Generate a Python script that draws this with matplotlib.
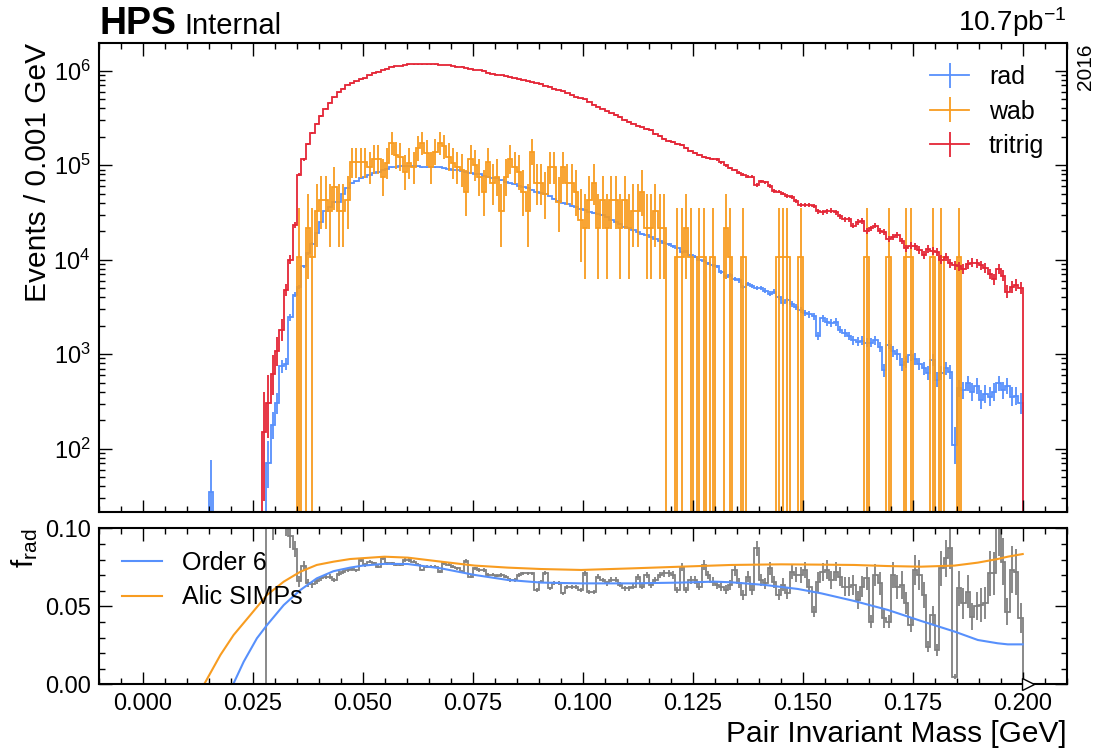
import numpy as np
import matplotlib.pyplot as plt
from matplotlib.ticker import MultipleLocator, LogLocator, NullFormatter, FormatStrFormatter

plt.rcParams['font.family'] = ['Liberation Sans', 'DejaVu Sans']
plt.rcParams['mathtext.fontset'] = 'custom'
plt.rcParams['mathtext.rm'] = 'Liberation Sans'
plt.rcParams['mathtext.it'] = 'Liberation Sans:italic'
plt.rcParams['mathtext.bf'] = 'Liberation Sans:bold'

# binning: 200 bins of 0.001 GeV
edges = np.linspace(0.0, 0.2, 201)
centers = 0.5 * (edges[:-1] + edges[1:])

# events per bin
tritrig = [0] * 27 + [151, 302, 617,
    1070, 1820, 4790, 1.0e4, 2.34e4, 7.94e4, 1.15e5, 1.66e5, 2.19e5, 2.75e5,
    3.31e5, 3.98e5, 4.57e5, 5.25e5, 5.89e5, 6.46e5, 7.08e5, 7.41e5, 7.76e5, 8.13e5,
    8.32e5, 8.91e5, 9.55e5, 9.77e5, 1.02e6, 1.05e6, 1.10e6, 1.12e6, 1.12e6, 1.15e6,
    1.17e6, 1.17e6, 1.17e6, 1.17e6, 1.17e6, 1.17e6, 1.17e6, 1.15e6, 1.15e6, 1.15e6,
    1.12e6, 1.10e6, 1.10e6, 1.07e6, 1.05e6, 1.02e6, 1.02e6, 1.00e6, 9.55e5, 9.33e5,
    9.12e5, 8.91e5, 8.71e5, 8.51e5, 8.32e5, 8.13e5, 7.94e5, 7.76e5, 7.59e5, 7.41e5,
    7.24e5, 6.92e5, 6.76e5, 6.46e5, 6.31e5, 6.03e5, 5.75e5, 5.50e5, 5.25e5, 5.13e5,
    5.01e5, 4.68e5, 4.37e5, 4.17e5, 3.98e5, 3.72e5, 3.55e5, 3.39e5, 3.24e5, 3.02e5,
    2.88e5, 2.75e5, 2.63e5, 2.51e5, 2.40e5, 2.34e5, 2.14e5, 2.04e5, 1.91e5, 1.82e5,
    1.74e5, 1.66e5, 1.62e5, 1.51e5, 1.41e5, 1.35e5, 1.29e5, 1.23e5, 1.20e5, 1.17e5,
    1.15e5, 1.07e5, 1.00e5, 9.33e4, 8.91e4, 8.32e4, 7.94e4, 7.59e4, 7.59e4, 6.17e4,
    6.76e4, 6.61e4, 6.03e4, 5.37e4, 5.25e4, 5.01e4, 4.68e4, 4.57e4, 4.17e4, 3.80e4,
    3.80e4, 3.80e4, 3.72e4, 3.24e4, 3.16e4, 3.24e4, 3.31e4, 3.16e4, 2.88e4, 2.69e4,
    2.69e4, 2.29e4, 2.51e4, 2.57e4, 2.00e4, 2.14e4, 2.29e4, 2.00e4, 1.95e4, 1.66e4,
    1.74e4, 1.82e4, 1.58e4, 1.32e4, 1.41e4, 1.38e4, 1.26e4, 1.12e4, 1.29e4, 1.23e4,
    1.20e4, 1.00e4, 1.07e4, 9120, 8710, 8510, 7940, 8910, 9330, 9120,
    8710, 8130, 7080, 6170, 7940, 6760, 4570, 5130, 5370, 5010]

rad = [0] * 15 + [35] + [0] * 12 + [71, 178,
    302, 741, 794, 2450, 4270, 5130, 8510, 1.17e4, 1.48e4, 1.91e4,
    2.51e4, 3.24e4, 3.63e4, 4.07e4, 4.07e4, 5.01e4, 5.75e4, 6.46e4, 6.76e4, 7.24e4,
    7.59e4, 7.94e4, 8.32e4, 8.51e4, 8.91e4, 9.12e4, 9.55e4, 9.55e4, 9.77e4, 9.77e4,
    9.77e4, 9.77e4, 9.77e4, 9.55e4, 9.55e4, 9.55e4, 9.55e4, 9.55e4, 9.33e4, 9.12e4,
    8.91e4, 8.91e4, 8.71e4, 8.51e4, 8.32e4, 8.13e4, 8.13e4, 7.76e4, 7.59e4, 7.41e4,
    7.24e4, 6.92e4, 6.61e4, 6.46e4, 6.31e4, 6.03e4, 5.89e4, 5.75e4, 5.50e4, 5.25e4,
    5.13e4, 5.01e4, 4.68e4, 4.37e4, 4.17e4, 3.98e4, 3.89e4, 3.72e4, 3.63e4, 3.47e4,
    3.39e4, 3.16e4, 3.09e4, 3.02e4, 2.95e4, 2.82e4, 2.63e4, 2.51e4, 2.40e4, 2.24e4,
    2.14e4, 2.04e4, 1.95e4, 1.86e4, 1.82e4, 1.74e4, 1.66e4, 1.58e4, 1.51e4, 1.45e4,
    1.38e4, 1.32e4, 1.20e4, 1.23e4, 1.12e4, 1.07e4, 1.00e4, 9770, 9120, 8710,
    8510, 7410, 6610, 6920, 6310, 6030, 5130, 5500, 5250, 5010,
    5010, 4680, 4370, 4570, 3980, 3470, 3720, 3390, 3160, 2950,
    2750, 2630, 2510, 1550, 2400, 2190, 2140, 2190, 1820, 1660,
    1550, 1410, 1350, 1380, 1320, 1320, 1410, 1200, 676, 1260,
    1070, 1000, 776, 832, 977, 891, 794, 708, 631, 871,
    537, 631, 708, 646, 110, 437, 417, 490, 398, 457,
    331, 380, 355, 398, 490, 417, 457, 355, 363, 302]

wab = [0] * 35 + [10700, 0, 21400, 10700, 32400,
    42700, 42700, 32400, 58900, 32400, 32400, 42700, 1.07e5, 1.07e5, 1.07e5,
    1.07e5, 95500, 1.17e5, 1.17e5, 75900, 1.05e5, 1.70e5, 1.29e5, 1.23e5, 85100,
    1.05e5, 95500, 1.51e5, 1.70e5, 1.35e5, 95500, 1.38e5, 1.70e5, 1.58e5, 1.23e5,
    1.05e5, 95500, 89100, 52500, 1.17e5, 1.00e5, 75900, 52500, 1.07e5, 64600,
    75900, 32400, 75900, 1.17e5, 95500, 85100, 52500, 32400, 1.38e5, 64600,
    64600, 50100, 95500, 95500, 40700, 95500, 64600, 64600, 52500, 26300,
    21400, 42700, 64600, 21400, 42700, 21400, 42700, 42700, 21400, 42700,
    21400, 32400, 32400, 52500, 21400, 21400, 32400, 21400, 21400, 0,
    0, 10700, 10700, 21400, 10700, 0, 10700, 10700, 0, 10700,
    0, 0, 21400, 10700, 0, 0, 10700, 0, 0, 0,
    0, 0, 0, 0, 10700, 10700, 10700, 0, 0, 10700,
    0, 0, 0, 0, 0, 0, 0, 0, 0, 0,
    0, 0, 0, 0, 10700, 0, 0, 0, 0, 10700,
    0, 0, 0, 10700, 10700, 0, 0, 0, 0, 10700,
    0, 10700, 0, 0, 0, 10700, 0, 0, 0, 0,
    0, 0, 0, 0, 0, 0, 0, 0, 0, 0]

# approximate weight of one MC event per sample (sets the error bar size)
rad_w, wab_w, tri_w = 15, 10700, 100

# f_rad per bin, starting at bin 27
frad_start = 27
frad = [0, 0.2, 0.13,
    0.15, 0.12, 0.11, 0.095, 0.087, 0.066, 0.076, 0.065, 0.064, 0.066,
    0.068, 0.069, 0.069, 0.067, 0.071, 0.072, 0.073, 0.074, 0.073, 0.0797,
    0.0765, 0.0786, 0.0776, 0.0754, 0.0808, 0.0776, 0.0776, 0.0765, 0.0765, 0.0797,
    0.0797, 0.0786, 0.0765, 0.0733, 0.0754, 0.0754, 0.0754, 0.0722, 0.0776, 0.0765,
    0.0754, 0.0743, 0.0722, 0.079, 0.069, 0.0743, 0.0733, 0.0733, 0.0701, 0.0701,
    0.0695, 0.0701, 0.069, 0.0669, 0.0669, 0.0701, 0.0711, 0.0711, 0.0711, 0.0605,
    0.0658, 0.0711, 0.0615, 0.0647, 0.0647, 0.0583, 0.0626, 0.0626, 0.0626, 0.0605,
    0.0711, 0.0594, 0.0594, 0.069, 0.0669, 0.0647, 0.0669, 0.0669, 0.0637, 0.0615,
    0.0615, 0.0626, 0.069, 0.0626, 0.0701, 0.0637, 0.0669, 0.0701, 0.0711, 0.0711,
    0.0701, 0.0605, 0.0754, 0.0605, 0.0669, 0.0669, 0.0626, 0.0765, 0.0701, 0.0658,
    0.0637, 0.0626, 0.0605, 0.0637, 0.0733, 0.0647, 0.0573, 0.069, 0.0605, 0.0872,
    0.0669, 0.0647, 0.0743, 0.0658, 0.0573, 0.0637, 0.0583, 0.0722, 0.0701, 0.0701,
    0.0733, 0.0626, 0.0466, 0.0658, 0.0722, 0.0733, 0.0669, 0.0722, 0.069, 0.0626,
    0.0626, 0.0637, 0.0541, 0.0626, 0.068, 0.0402, 0.07, 0.0647, 0.0424, 0.0402,
    0.0701, 0.0626, 0.0637, 0.052, 0.0381, 0.0733, 0.0701, 0.0573, 0.0242, 0.0445,
    0.0221, 0.0743, 0.0808, 0.0872, 0.0049, 0.0615, 0.052, 0.0594, 0.0434, 0.050,
    0.051, 0.052, 0.0711, 0.0711, 0.100, 0.0786, 0.0466, 0.0733, 0.0722, 0.0424]

# fit curves
order6_mass = [0.0205, 0.0229, 0.0259, 0.0282, 0.0320, 0.0358, 0.0395, 0.0433, 0.0471,
               0.0500, 0.0549, 0.0602, 0.0678, 0.0754, 0.0829, 0.0905, 0.0996, 0.1110,
               0.1223, 0.1299, 0.1337, 0.1413, 0.1489, 0.1542, 0.1617, 0.1693, 0.1769,
               0.1845, 0.1898, 0.1943, 0.1966, 0.2000]
order6_frad = [0.0, 0.0145, 0.0295, 0.0380, 0.0508, 0.0605, 0.0679, 0.0725, 0.0748,
               0.0761, 0.0772, 0.0771, 0.0743, 0.0701, 0.0669, 0.0652, 0.0647, 0.0647,
               0.0652, 0.0658, 0.0654, 0.0637, 0.0611, 0.0583, 0.0534, 0.0477, 0.0406,
               0.0338, 0.0284, 0.0263, 0.0256, 0.0256]
alic_mass = [0.0139, 0.0176, 0.0206, 0.0244, 0.0282, 0.0320, 0.0358, 0.0395, 0.0433,
             0.0471, 0.0549, 0.0602, 0.0678, 0.0754, 0.0829, 0.0905, 0.0996, 0.1110,
             0.1223, 0.1337, 0.1451, 0.1542, 0.1617, 0.1693, 0.1769, 0.1845, 0.1898,
             0.1943, 0.1966, 0.2000]
alic_frad = [0.0, 0.0188, 0.0316, 0.0444, 0.0573, 0.0658, 0.0722, 0.0765, 0.0786,
             0.0803, 0.0818, 0.0812, 0.0786, 0.0761, 0.0748, 0.0739, 0.0733, 0.0743,
             0.0754, 0.0765, 0.0769, 0.0767, 0.0765, 0.0758, 0.0754, 0.0761, 0.0780,
             0.0803, 0.0818, 0.0835]

blue, orange, red = '#5790fc', '#f89c20', '#e42536'
lw = 1.3


def poisson_err(vals, w):
    n = vals / w
    return np.sqrt(n) * w, (np.sqrt(n + 0.75) + 1) * w


def draw_hist(ax, vals, color, w):
    vals = np.asarray(vals, float)
    ax.stairs(np.where(vals > 0, vals, 1e-3), edges, baseline=1e-3, color=color, lw=lw)
    m = vals > 0
    lo, hi = poisson_err(vals[m], w)
    ax.vlines(centers[m], np.maximum(vals[m] - lo, 1e-3), vals[m] + hi, color=color, lw=lw)


W, H = 1095, 749
fig = plt.figure(figsize=(W / 100, H / 100), dpi=100)
left, right = 99, 1066.7
ax = fig.add_axes([left / W, 1 - 511.7 / H, (right - left) / W, (511.7 - 42.7) / H])
rax = fig.add_axes([left / W, 1 - 684.3 / H, (right - left) / W, (684.3 - 528.3) / H])

# top panel
draw_hist(ax, rad, blue, rad_w)
draw_hist(ax, wab, orange, wab_w)
draw_hist(ax, tritrig, red, tri_w)

ax.set_yscale('log')
ax.set_ylim(21.5, 1.98e6)
ax.set_xlim(-0.01, 0.21)
ax.yaxis.set_major_locator(LogLocator(base=10, numticks=12))
ax.yaxis.set_minor_locator(LogLocator(base=10, subs=np.arange(2, 10), numticks=100))
ax.yaxis.set_minor_formatter(NullFormatter())
ax.tick_params(labelbottom=False)
ax.set_ylabel('Events / 0.001 GeV', fontsize=21.5, loc='top')
ax.yaxis.set_label_coords(-0.049, 1.0)

handles = [ax.errorbar([], [], yerr=[], color=c, lw=lw) for c in (blue, orange, red)]
ax.legend(handles, ['rad', 'wab', 'tritrig'], loc='upper right', frameon=False,
          fontsize=18, handlelength=1.55, handletextpad=0.8, labelspacing=0.42,
          borderaxespad=0.5)

# ratio panel
frad = np.asarray(frad, float)
fedges = edges[frad_start:]
fcent = centers[frad_start:]
rad_arr = np.asarray(rad, float)[frad_start:]
rax.stairs(frad, fedges, baseline=0, color='grey', lw=lw)
m = (frad > 0) & (rad_arr > 0)
ferr = frad[m] * np.sqrt(rad_w / rad_arr[m])
rax.vlines(fcent[m], frad[m] - ferr, frad[m] + ferr, color='grey', lw=lw)

rax.plot(order6_mass, order6_frad, color=blue, lw=1.5, label='Order 6')
rax.plot(alic_mass, alic_frad, color=orange, lw=1.5, label='Alic SIMPs')
rax.plot([0.2013], [0], marker='>', ms=9, mfc='white', mec='black', mew=1,
         clip_on=False, zorder=6)

rax.set_xlim(-0.01, 0.21)
rax.set_ylim(0, 0.1)
rax.yaxis.set_major_locator(MultipleLocator(0.05))
rax.yaxis.set_minor_locator(MultipleLocator(0.01))
rax.yaxis.set_major_formatter(FormatStrFormatter('%.2f'))
rax.xaxis.set_major_formatter(FormatStrFormatter('%.3f'))
rax.set_ylabel(r'f$_{\mathrm{rad}}$', fontsize=21.5, loc='top')
rax.yaxis.set_label_coords(-0.061, 1.0)
rax.set_xlabel('Pair Invariant Mass [GeV]', fontsize=21.5, loc='right')
rax.legend(loc='upper left', frameon=False, fontsize=18, handlelength=1.6,
           handletextpad=0.8, labelspacing=0.42, borderaxespad=0.5)

for a in (ax, rax):
    a.xaxis.set_major_locator(MultipleLocator(0.025))
    a.xaxis.set_minor_locator(MultipleLocator(0.005))
    a.tick_params(which='both', direction='in', top=True, right=True, labelsize=17, pad=6)
    a.tick_params(which='major', length=9, width=1)
    a.tick_params(which='minor', length=4.5, width=1)
    for s in a.spines.values():
        s.set_linewidth(1.5)

fig.text(left / W, 1 - 34 / H, 'HPS', fontsize=27, fontweight='bold', ha='left', va='baseline')
fig.text(184 / W, 1 - 34 / H, 'Internal', fontsize=21, ha='left', va='baseline')
fig.text(right / W, 1 - 31 / H, r'10.7pb$^{-1}$', fontsize=20, ha='right', va='baseline')
fig.text(1085 / W, 1 - 44 / H, '2016', rotation=90, fontsize=15, ha='center', va='top')

fig.savefig('out.png', dpi=100)
